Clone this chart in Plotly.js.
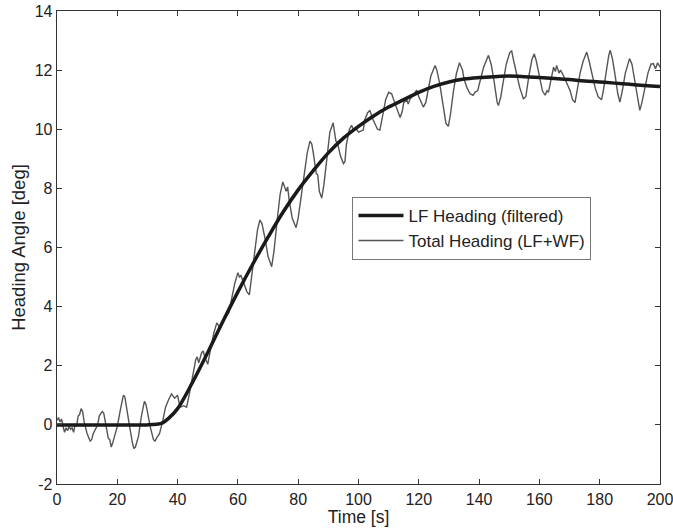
<!DOCTYPE html>
<html>
<head>
<meta charset="utf-8">
<script src="https://cdn.plot.ly/plotly-3.0.1.min.js"></script>
<style>html,body{margin:0;padding:0;background:#fff;}#chart{width:673px;height:530px;}</style>
</head>
<body>
<div id="chart"></div>
<script>
// LF heading (filtered)
var lfTime = [0,5,10,15,20,25,30,33,35,37,40,45,50,55,60,65,70,75,80,85,90,95,100,105,110,115,120,125,130,135,140,145,150,155,160,165,170,175,180,185,190,195,200];
var lfHeading = [0,0,0,0,0,0,0,0.02,0.07,0.22,0.55,1.45,2.45,3.5,4.5,5.45,6.35,7.2,7.95,8.6,9.2,9.7,10.1,10.45,10.75,11.0,11.25,11.45,11.6,11.7,11.75,11.78,11.8,11.78,11.75,11.72,11.68,11.63,11.6,11.56,11.52,11.48,11.45];

// Total heading (LF+WF)
var totTime = [0,0.5,1,1.5,2,2.5,3,3.5,4,4.5,5,5.5,6,6.5,7,7.5,8,8.5,9,10,11,11.5,12,13,13.5,14,15,15.5,16,16.5,17,17.5,18,18.5,19,20,21,22,22.5,23,24,25,25.5,26,27,28,29,29.5,30,31,32,32.5,33,34,35,36,37,38,39,40,40.5,41,42,43,44,45,46,46.5,47,48,48.5,49,50,51,52,53,54,55,56,57,58,59,60,60.5,61,62,63,63.8,64.5,65.5,66.5,67.3,68,69,70,71.2,72,73,74,74.9,75.5,76,76.5,77,78,79.3,80,81,82,83,83.9,84.5,85,86,86.5,87,87.8,88.5,89.5,90.5,91.6,92,92.5,93,94,95,95.5,96,97,97.7,98.5,99,100,101.6,102,103,103.8,104.5,105.5,106.3,107.1,108,109,110,111,112,113,113.8,114.5,115,116,116.5,117,118,119.3,120,121,121.5,122.3,123,124,125.4,126,127,128,129,129.8,130.5,131.5,132.5,133.5,134.5,135,136,137,138,138.6,139.5,140.5,141.5,143.1,144,145,146,146.4,147.2,148,149,150.2,150.8,151.5,152.5,153.5,154.7,155.5,156.5,157.5,158.3,159,160,161,161.9,162.5,163,164,164.7,165.3,165.7,166.5,167,167.8,168.5,169.3,170.2,171,171.8,172.5,173.5,174.5,175.7,176.5,177.5,178.5,179.5,180.6,181.2,182,183,183.5,184.2,185,186,186.7,187.5,188.5,189.9,190.7,191.5,192.5,193.3,194,195,196,197,197.8,198.5,199.2,200];
var totHeading = [0.15,0.25,0.1,0.2,-0.05,-0.25,-0.1,-0.2,-0.05,-0.15,-0.1,-0.25,0.0,-0.05,0.3,0.35,0.55,0.45,0.1,-0.3,-0.55,-0.5,-0.3,-0.1,0.0,0.3,0.45,0.4,0.1,-0.1,-0.45,-0.5,-0.75,-0.6,-0.4,-0.05,0.5,1.0,0.95,0.6,0.0,-0.6,-0.8,-0.75,-0.4,0.3,0.8,0.7,0.4,-0.1,-0.5,-0.55,-0.45,-0.3,0.1,0.6,0.85,1.05,0.9,1.0,0.75,0.6,0.65,0.6,1.1,1.7,2.2,2.3,2.1,2.45,2.5,2.3,2.05,2.6,3.1,3.45,3.3,3.5,3.65,3.8,4.3,4.8,5.15,5.0,5.05,4.8,4.5,4.4,5.0,5.9,6.6,6.93,6.8,6.3,5.7,5.35,5.9,6.9,7.8,8.22,8.0,7.9,8.05,7.6,7.0,6.67,7.0,7.7,8.5,9.2,9.6,9.5,9.2,8.5,8.45,7.9,7.67,8.1,9.0,9.9,10.22,9.9,9.6,9.55,9.1,8.84,8.9,9.5,10.0,10.13,9.95,10.05,9.9,9.97,10.3,10.55,10.64,10.4,10.2,10.0,9.97,10.5,11.0,11.25,11.2,10.9,10.6,10.4,10.6,10.9,11.0,10.85,11.0,11.15,11.32,11.1,10.85,10.75,10.9,11.3,11.8,12.16,12.0,11.5,10.8,10.2,10.1,10.5,11.3,11.9,12.25,12.0,11.7,11.4,11.2,11.15,11.25,11.3,11.7,12.1,12.5,12.2,11.6,10.9,10.8,11.1,11.6,12.2,12.6,12.65,12.3,11.8,11.4,11.03,11.1,11.8,12.35,12.55,12.3,11.8,11.3,11.15,11.3,11.25,11.7,12.1,11.95,12.16,11.9,12.0,11.85,11.7,11.55,11.3,11.0,10.9,11.3,11.9,12.3,12.61,12.3,11.8,11.4,11.1,11.0,11.3,11.9,12.5,12.67,12.4,11.9,11.2,10.92,11.3,11.9,12.39,12.2,11.7,11.0,10.64,10.9,11.4,11.9,12.2,12.22,12.05,12.25,12.1];

var xTicks = [0,20,40,60,80,100,120,140,160,180,200];
var yTicks = [-2,0,2,4,6,8,10,12,14];

var FONT = 'Liberation Sans, Arial, sans-serif';

var traces = [
  {x: totTime, y: totHeading, type: 'scatter', mode: 'lines', name: 'Total Heading (LF+WF)',
   line: {color: '#555555', width: 1.4}},
  {x: lfTime, y: lfHeading, type: 'scatter', mode: 'lines', name: 'LF Heading (filtered)',
   line: {color: '#1a1a1a', width: 3.5, shape: 'spline', smoothing: 1}}
];

var axisCommon = {
  showgrid: false, zeroline: false, showline: true, linecolor: '#333', linewidth: 1.3,
  mirror: 'allticks', ticks: 'inside', ticklen: 5, tickcolor: '#333', tickwidth: 1,
  ticklabeloverflow: 'allow', automargin: false,
  tickfont: {family: FONT, size: 16, color: '#222'}
};

var layout = {
  width: 673, height: 530,
  margin: {l: 57, r: 13, t: 11, b: 46},
  paper_bgcolor: '#fff', plot_bgcolor: '#fff',
  showlegend: true,
  legend: {x: 0.49, y: 0.607, xanchor: 'left', yanchor: 'top', traceorder: 'reversed',
    bordercolor: '#777', borderwidth: 1, bgcolor: '#fff', itemwidth: 45,
    font: {family: FONT, size: 17, color: '#222'},
    tracegroupgap: 0},
  xaxis: Object.assign({}, axisCommon, {range: [0, 200], tickvals: xTicks, ticktext: xTicks.map(String),
    title: {text: 'Time [s]', standoff: 0, font: {family: FONT, size: 17.5, color: '#222'}}}),
  yaxis: Object.assign({}, axisCommon, {range: [-2, 14], tickvals: yTicks, ticktext: yTicks.map(String),
    title: {text: 'Heading Angle [deg]', standoff: 4, font: {family: FONT, size: 18.5, color: '#222'}}})
};

Plotly.newPlot('chart', traces, layout, {displayModeBar: false, staticPlot: true});
</script>
</body>
</html>
